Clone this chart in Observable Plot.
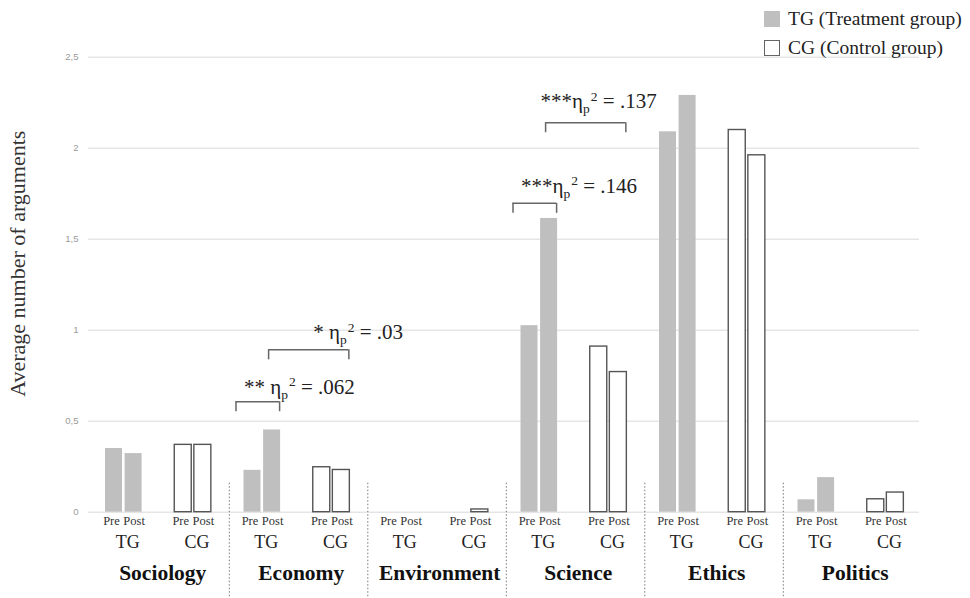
<!DOCTYPE html>
<html>
<head>
<meta charset="utf-8">
<script src="https://cdn.jsdelivr.net/npm/d3@7"></script>
<script src="https://cdn.jsdelivr.net/npm/@observablehq/plot@0.6"></script>
<style>
  body { margin: 0; background: #fff; }
  #wrap { position: relative; width: 970px; height: 598px; font-family: "Liberation Serif", "Times New Roman", serif; }
  #legend { position: absolute; z-index: 2; left: 764px; top: 4px; font-size: 19.5px; color: #222; line-height: 29px; }
  .sw { display: inline-block; width: 16px; height: 16px; box-sizing: border-box; vertical-align: -2px; margin-right: 8px; }
</style>
</head>
<body>
<div id="wrap"><div id="legend"></div></div>
<script>
// ---------- data ----------
const categories = ["Sociology", "Economy", "Environment", "Science", "Ethics", "Politics"];
const groups = ["TG", "CG"];
const phases = ["Pre", "Post"];
const legendLabels = ["TG (Treatment group)", "CG (Control group)"];

const tgPre  = [0.35, 0.23, 0, 1.025, 2.09, 0.068];
const tgPost = [0.322, 0.452, 0, 1.614, 2.29, 0.19];
const cgPre  = [0.37, 0.247, 0, 0.91, 2.10, 0.071];
const cgPost = [0.37, 0.232, 0.015, 0.77, 1.961, 0.108];

const yTicks = [0, 0.5, 1, 1.5, 2, 2.5];
const yLabel = "Average number of arguments";

// significance annotations
const annStars  = ["** ", "* ", "***", "***"];
const annValues = [".062", ".03", ".146", ".137"];
const annLevel  = [0.607, 0.892, 1.697, 2.14];   // bracket height
const annTextY  = [0.651, 0.951, 1.754, 2.22];   // text baseline
const annFrom   = [["Economy", "TG", "Pre"], ["Economy", "TG", "Post"], ["Science", "TG", "Pre"], ["Science", "TG", "Post"]];
const annTo     = [["Economy", "TG", "Post"], ["Economy", "CG", "Post"], ["Science", "TG", "Post"], ["Science", "CG", "Post"]];
const annTextAt = [["Economy", "TG", "Pre"], ["Economy", "CG", "Pre"], ["Science", "TG", "Pre"], ["Science", "TG", "Post"]];

// ---------- layout ----------
const W = 970, H = 598, ML = 88, MR = 51, MT = 56.7, MB = 86.3;
const slot = (W - ML - MR) / (categories.length * groups.length);
const BAR_W = 17, PRE_LEFT = 17, POST_LEFT = 36.6;
const barLeft = {Pre: PRE_LEFT, Post: POST_LEFT};
const labelShift = {Pre: -2.5, Post: 0.5};
const pxPerUnit = (H - MT - MB) / (yTicks[yTicks.length - 1] - yTicks[0]);
const tickLen = 10 / pxPerUnit;
const TG_FILL = "#bfbfbf", CG_STROKE = "#555";

// ---------- tables ----------
const series = {TG: {Pre: tgPre, Post: tgPost}, CG: {Pre: cgPre, Post: cgPost}};
const keyOf = (c, g) => c + "|" + g;
const slotKeys = categories.flatMap(c => groups.map(g => keyOf(c, g)));
const slots = categories.flatMap(c => groups.map(g => ({cat: c, group: g, key: keyOf(c, g)})));
const rows = categories.flatMap((c, i) => groups.flatMap(g => phases.map(p => ({
  cat: c, group: g, phase: p, key: keyOf(c, g), value: series[g][p][i]
}))));
const ann = annStars.map((s, i) => ({
  stars: s, value: annValues[i], level: annLevel[i], textY: annTextY[i],
  fromKey: keyOf(annFrom[i][0], annFrom[i][1]), fromPhase: annFrom[i][2],
  toKey: keyOf(annTo[i][0], annTo[i][1]), toPhase: annTo[i][2],
  textKey: keyOf(annTextAt[i][0], annTextAt[i][1]), textPhase: annTextAt[i][2]
}));
const startOff = {Pre: PRE_LEFT - 8, Post: POST_LEFT + 5};
const endOff = {Pre: PRE_LEFT + BAR_W - 1, Post: POST_LEFT + BAR_W - 1};

// ---------- marks ----------
const marks = [];
// grid
marks.push(Plot.ruleY(yTicks, {y: d => d, stroke: "#d9d9d9", strokeWidth: 1}));
// y tick labels
marks.push(Plot.text(yTicks, {
  y: d => d, text: d => String(d).replace(".", ","), frameAnchor: "left", textAnchor: "end",
  dx: -10, fontSize: 9.5, fill: "#9a9a9a", fontFamily: "Liberation Sans, Arial, sans-serif"
}));
// bars
for (const g of groups) {
  for (const p of phases) {
    const data = rows.filter(r => r.group === g && r.phase === p && (g === "TG" || r.value > 0));
    marks.push(Plot.barY(data, {
      x: "key", y: "value",
      insetLeft: barLeft[p], insetRight: slot - barLeft[p] - BAR_W,
      fill: g === "TG" ? TG_FILL : "white",
      stroke: g === "TG" ? "none" : CG_STROKE,
      strokeWidth: g === "TG" ? 0 : 1.4
    }));
  }
}
// Pre / Post labels
for (const p of phases) {
  marks.push(Plot.text(rows.filter(r => r.phase === p), {
    x: "key", text: "phase", frameAnchor: "bottom",
    dx: barLeft[p] + BAR_W / 2 - slot / 2 + labelShift[p], dy: 13, fontSize: 12.5, fill: "#333"
  }));
}
// TG / CG labels
marks.push(Plot.text(slots, {
  x: "key", text: "group", frameAnchor: "bottom",
  dx: (PRE_LEFT + POST_LEFT + BAR_W) / 2 - slot / 2 + 4, dy: 36, fontSize: 18, fill: "#222"
}));
// category labels
marks.push(Plot.text(categories, {
  x: d => keyOf(d, groups[0]), text: d => d, frameAnchor: "bottom",
  dx: slot / 2 + 5, dy: 68, fontSize: 21.5, fontWeight: "bold", fill: "#111"
}));
// dotted category dividers
marks.push(Plot.ruleX(categories.slice(1), {
  x: d => keyOf(d, groups[0]), dx: -slot / 2 + 2.3,
  insetTop: 426, insetBottom: -MB, stroke: "#777", strokeWidth: 1, strokeDasharray: "1.5,2"
}));
// brackets
for (const pf of phases) {
  for (const pt of phases) {
    const data = ann.filter(a => a.fromPhase === pf && a.toPhase === pt);
    if (!data.length) continue;
    marks.push(Plot.ruleY(data, {
      x1: "fromKey", x2: "toKey", y: "level",
      insetLeft: startOff[pf], insetRight: slot - endOff[pt],
      stroke: "#666", strokeWidth: 1.5
    }));
  }
  marks.push(Plot.ruleX(ann.filter(a => a.fromPhase === pf), {
    x: "fromKey", y1: "level", y2: a => a.level - tickLen,
    dx: startOff[pf] - slot / 2, stroke: "#666", strokeWidth: 1.5
  }));
  marks.push(Plot.ruleX(ann.filter(a => a.toPhase === pf), {
    x: "toKey", y1: "level", y2: a => a.level - tickLen,
    dx: endOff[pf] - slot / 2, stroke: "#666", strokeWidth: 1.5
  }));
  // annotation text
  marks.push(Plot.text(ann.filter(a => a.textPhase === pf), {
    x: "textKey", y: "textY", text: a => a.stars + "η=" + a.value,
    textAnchor: "start", lineAnchor: "bottom",
    dx: barLeft[pf] - slot / 2, fontSize: 21, fill: "#222"
  }));
}
// y-axis label
marks.push(Plot.text([yLabel], {
  text: d => d, frameAnchor: "left", textAnchor: "middle", rotate: -90, dx: -70.5, dy: -21,
  fontSize: 22, fill: "#333"
}));

const chart = Plot.plot({
  width: W, height: H,
  marginLeft: ML, marginRight: MR, marginTop: MT, marginBottom: MB,
  x: {domain: slotKeys, padding: 0, round: false, axis: null},
  y: {domain: [yTicks[0], yTicks[yTicks.length - 1]], axis: null},
  style: {fontFamily: "'Liberation Serif', 'Times New Roman', serif", background: "white", color: "#222"},
  marks
});

// eta-squared notation: subscript p, superscript 2
d3.select(chart).selectAll("text").each(function () {
  const m = /^(\**\s?)η=(\.\d+)$/.exec(this.textContent);
  if (!m) return;
  const t = d3.select(this);
  t.text(null);
  t.append("tspan").text(m[1] + "η");
  t.append("tspan").attr("font-size", 13.5).attr("dy", 5).text("p");
  t.append("tspan").attr("font-size", 13.5).attr("dy", -12.5).attr("dx", 1).text("2");
  t.append("tspan").attr("dy", 7.5).text(" = " + m[2]);
});

document.getElementById("wrap").appendChild(chart);
chart.style.position = "absolute";
chart.style.left = "0";
chart.style.top = "0";

// legend
const legendFill = [TG_FILL, "white"];
const legendBorder = ["none", "1.3px solid #666"];
const legend = document.getElementById("legend");
legendLabels.forEach((lab, i) => {
  const row = document.createElement("div");
  const sw = document.createElement("span");
  sw.className = "sw";
  sw.style.background = legendFill[i];
  sw.style.border = legendBorder[i];
  row.appendChild(sw);
  row.appendChild(document.createTextNode(lab));
  legend.appendChild(row);
});
</script>
</body>
</html>
